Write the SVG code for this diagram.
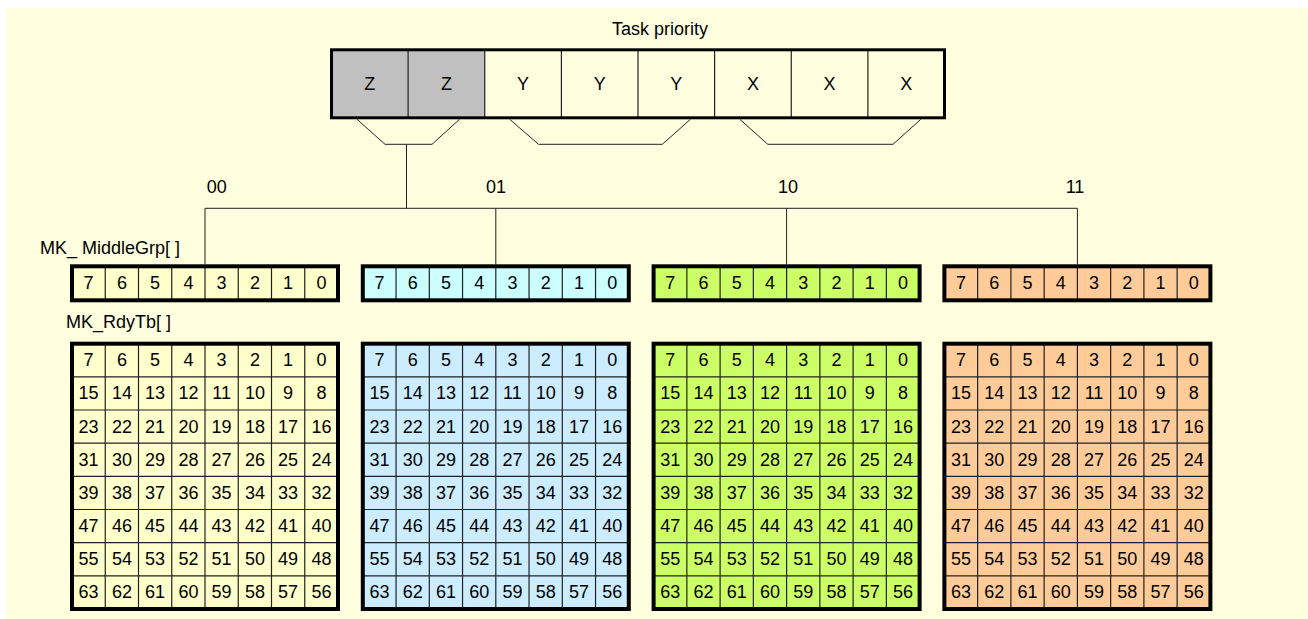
<svg xmlns="http://www.w3.org/2000/svg" width="1308" height="619" viewBox="0 0 1308 619">
<style>
text{font-family:"Liberation Sans",Arial,sans-serif;font-size:18px;fill:#000}
.c{text-anchor:middle;dominant-baseline:central}
.lbl{font-size:18px}
.outer{fill:none;stroke:#000;stroke-width:4}
.div{fill:none;stroke:#222;stroke-width:1.2}
.con{fill:none;stroke:#222;stroke-width:1}
.yel{fill:#FFFFCC}.cyan{fill:#CCFFFF}.blue{fill:#CCECFF}.grn{fill:#CCFF66}.org{fill:#FFCC99}
</style>
<rect x="6" y="8" width="1302" height="611" fill="#FFFFE0"/>

<g id="task-priority">
<text class="c" x="660" y="29">Task priority</text>
<rect x="331.5" y="49.8" width="153.25" height="68" fill="#C0C0C0"/>
<path class="div" d="M408.1,49.8V117.8M484.75,49.8V117.8M561.4,49.8V117.8M638,49.8V117.8M714.6,49.8V117.8M791.25,49.8V117.8M867.9,49.8V117.8"/>
<rect x="331.5" y="49.8" width="613" height="68" fill="none" stroke="#000" stroke-width="3"/>
<text class="c" x="369.8" y="84">Z</text>
<text class="c" x="446.4" y="84">Z</text>
<text class="c" x="523.1" y="84">Y</text>
<text class="c" x="599.7" y="84">Y</text>
<text class="c" x="676.3" y="84">Y</text>
<text class="c" x="753" y="84">X</text>
<text class="c" x="829.6" y="84">X</text>
<text class="c" x="906.2" y="84">X</text>
</g>

<g id="connectors">
<path class="con" d="M357,119.3L385,144.3H432L459.5,119.3"/>
<path class="con" d="M509.7,119.3L538.6,144.3H662.3L690.4,119.3"/>
<path class="con" d="M739.8,119.3L767.8,144.3H893L920.8,119.3"/>
<path class="con" d="M406.5,144.3V208.3M205,208.3H1077.4M205,208.3V264.3M495.8,208.3V264.3M786.6,208.3V264.3M1077.4,208.3V264.3"/>
<text class="c" x="216.7" y="187">00</text>
<text class="c" x="496" y="187">01</text>
<text class="c" x="788" y="187">10</text>
<text class="c" x="1075" y="187">11</text>
</g>

<text x="40" y="254" class="lbl">MK_ MiddleGrp[ ]</text>
<text x="66" y="328" class="lbl">MK_RdyTb[ ]</text>

<g id="middle-00">
<rect class="yel" x="72" y="266.3" width="266" height="34"/>
<path class="div" d="M105.25,266.3V300.3M138.5,266.3V300.3M171.75,266.3V300.3M205,266.3V300.3M238.25,266.3V300.3M271.5,266.3V300.3M304.75,266.3V300.3"/>
<rect class="outer" x="72" y="266.3" width="266" height="34"/>
<text class="c" x="88.6" y="283.3">7</text><text class="c" x="121.9" y="283.3">6</text><text class="c" x="155.1" y="283.3">5</text><text class="c" x="188.4" y="283.3">4</text><text class="c" x="221.6" y="283.3">3</text><text class="c" x="254.9" y="283.3">2</text><text class="c" x="288.1" y="283.3">1</text><text class="c" x="321.4" y="283.3">0</text>
</g>
<g id="middle-01">
<rect class="cyan" x="362.8" y="266.3" width="266" height="34"/>
<path class="div" d="M396.05,266.3V300.3M429.3,266.3V300.3M462.55,266.3V300.3M495.8,266.3V300.3M529.05,266.3V300.3M562.3,266.3V300.3M595.55,266.3V300.3"/>
<rect class="outer" x="362.8" y="266.3" width="266" height="34"/>
<text class="c" x="379.4" y="283.3">7</text><text class="c" x="412.7" y="283.3">6</text><text class="c" x="445.9" y="283.3">5</text><text class="c" x="479.2" y="283.3">4</text><text class="c" x="512.4" y="283.3">3</text><text class="c" x="545.7" y="283.3">2</text><text class="c" x="578.9" y="283.3">1</text><text class="c" x="612.2" y="283.3">0</text>
</g>
<g id="middle-10">
<rect class="grn" x="653.6" y="266.3" width="266" height="34"/>
<path class="div" d="M686.85,266.3V300.3M720.1,266.3V300.3M753.35,266.3V300.3M786.6,266.3V300.3M819.85,266.3V300.3M853.1,266.3V300.3M886.35,266.3V300.3"/>
<rect class="outer" x="653.6" y="266.3" width="266" height="34"/>
<text class="c" x="670.2" y="283.3">7</text><text class="c" x="703.5" y="283.3">6</text><text class="c" x="736.7" y="283.3">5</text><text class="c" x="770" y="283.3">4</text><text class="c" x="803.2" y="283.3">3</text><text class="c" x="836.5" y="283.3">2</text><text class="c" x="869.7" y="283.3">1</text><text class="c" x="903" y="283.3">0</text>
</g>
<g id="middle-11">
<rect class="org" x="944.4" y="266.3" width="266" height="34"/>
<path class="div" d="M977.65,266.3V300.3M1010.9,266.3V300.3M1044.15,266.3V300.3M1077.4,266.3V300.3M1110.65,266.3V300.3M1143.9,266.3V300.3M1177.15,266.3V300.3"/>
<rect class="outer" x="944.4" y="266.3" width="266" height="34"/>
<text class="c" x="961" y="283.3">7</text><text class="c" x="994.3" y="283.3">6</text><text class="c" x="1027.5" y="283.3">5</text><text class="c" x="1060.8" y="283.3">4</text><text class="c" x="1094" y="283.3">3</text><text class="c" x="1127.3" y="283.3">2</text><text class="c" x="1160.5" y="283.3">1</text><text class="c" x="1193.8" y="283.3">0</text>
</g>

<g id="rdytbl-00">
<rect class="yel" x="72" y="343.7" width="266" height="265.3"/>
<path class="div" d="M105.25,343.7V609M138.5,343.7V609M171.75,343.7V609M205,343.7V609M238.25,343.7V609M271.5,343.7V609M304.75,343.7V609M72,376.86H338M72,410.02H338M72,443.18H338M72,476.34H338M72,509.5H338M72,542.66H338M72,575.82H338"/>
<rect class="outer" x="72" y="343.7" width="266" height="265.3"/>
<text class="c" x="88.6" y="360.3">7</text><text class="c" x="121.9" y="360.3">6</text><text class="c" x="155.1" y="360.3">5</text><text class="c" x="188.4" y="360.3">4</text><text class="c" x="221.6" y="360.3">3</text><text class="c" x="254.9" y="360.3">2</text><text class="c" x="288.1" y="360.3">1</text><text class="c" x="321.4" y="360.3">0</text>
<text class="c" x="88.6" y="393.4">15</text><text class="c" x="121.9" y="393.4">14</text><text class="c" x="155.1" y="393.4">13</text><text class="c" x="188.4" y="393.4">12</text><text class="c" x="221.6" y="393.4">11</text><text class="c" x="254.9" y="393.4">10</text><text class="c" x="288.1" y="393.4">9</text><text class="c" x="321.4" y="393.4">8</text>
<text class="c" x="88.6" y="426.6">23</text><text class="c" x="121.9" y="426.6">22</text><text class="c" x="155.1" y="426.6">21</text><text class="c" x="188.4" y="426.6">20</text><text class="c" x="221.6" y="426.6">19</text><text class="c" x="254.9" y="426.6">18</text><text class="c" x="288.1" y="426.6">17</text><text class="c" x="321.4" y="426.6">16</text>
<text class="c" x="88.6" y="459.8">31</text><text class="c" x="121.9" y="459.8">30</text><text class="c" x="155.1" y="459.8">29</text><text class="c" x="188.4" y="459.8">28</text><text class="c" x="221.6" y="459.8">27</text><text class="c" x="254.9" y="459.8">26</text><text class="c" x="288.1" y="459.8">25</text><text class="c" x="321.4" y="459.8">24</text>
<text class="c" x="88.6" y="492.9">39</text><text class="c" x="121.9" y="492.9">38</text><text class="c" x="155.1" y="492.9">37</text><text class="c" x="188.4" y="492.9">36</text><text class="c" x="221.6" y="492.9">35</text><text class="c" x="254.9" y="492.9">34</text><text class="c" x="288.1" y="492.9">33</text><text class="c" x="321.4" y="492.9">32</text>
<text class="c" x="88.6" y="526.1">47</text><text class="c" x="121.9" y="526.1">46</text><text class="c" x="155.1" y="526.1">45</text><text class="c" x="188.4" y="526.1">44</text><text class="c" x="221.6" y="526.1">43</text><text class="c" x="254.9" y="526.1">42</text><text class="c" x="288.1" y="526.1">41</text><text class="c" x="321.4" y="526.1">40</text>
<text class="c" x="88.6" y="559.2">55</text><text class="c" x="121.9" y="559.2">54</text><text class="c" x="155.1" y="559.2">53</text><text class="c" x="188.4" y="559.2">52</text><text class="c" x="221.6" y="559.2">51</text><text class="c" x="254.9" y="559.2">50</text><text class="c" x="288.1" y="559.2">49</text><text class="c" x="321.4" y="559.2">48</text>
<text class="c" x="88.6" y="592.4">63</text><text class="c" x="121.9" y="592.4">62</text><text class="c" x="155.1" y="592.4">61</text><text class="c" x="188.4" y="592.4">60</text><text class="c" x="221.6" y="592.4">59</text><text class="c" x="254.9" y="592.4">58</text><text class="c" x="288.1" y="592.4">57</text><text class="c" x="321.4" y="592.4">56</text>
</g>

<g id="rdytbl-01">
<rect class="blue" x="362.8" y="343.7" width="266" height="265.3"/>
<path class="div" d="M396.05,343.7V609M429.3,343.7V609M462.55,343.7V609M495.8,343.7V609M529.05,343.7V609M562.3,343.7V609M595.55,343.7V609M362.8,376.86H628.8M362.8,410.02H628.8M362.8,443.18H628.8M362.8,476.34H628.8M362.8,509.5H628.8M362.8,542.66H628.8M362.8,575.82H628.8"/>
<rect class="outer" x="362.8" y="343.7" width="266" height="265.3"/>
<text class="c" x="379.4" y="360.3">7</text><text class="c" x="412.7" y="360.3">6</text><text class="c" x="445.9" y="360.3">5</text><text class="c" x="479.2" y="360.3">4</text><text class="c" x="512.4" y="360.3">3</text><text class="c" x="545.7" y="360.3">2</text><text class="c" x="578.9" y="360.3">1</text><text class="c" x="612.2" y="360.3">0</text>
<text class="c" x="379.4" y="393.4">15</text><text class="c" x="412.7" y="393.4">14</text><text class="c" x="445.9" y="393.4">13</text><text class="c" x="479.2" y="393.4">12</text><text class="c" x="512.4" y="393.4">11</text><text class="c" x="545.7" y="393.4">10</text><text class="c" x="578.9" y="393.4">9</text><text class="c" x="612.2" y="393.4">8</text>
<text class="c" x="379.4" y="426.6">23</text><text class="c" x="412.7" y="426.6">22</text><text class="c" x="445.9" y="426.6">21</text><text class="c" x="479.2" y="426.6">20</text><text class="c" x="512.4" y="426.6">19</text><text class="c" x="545.7" y="426.6">18</text><text class="c" x="578.9" y="426.6">17</text><text class="c" x="612.2" y="426.6">16</text>
<text class="c" x="379.4" y="459.8">31</text><text class="c" x="412.7" y="459.8">30</text><text class="c" x="445.9" y="459.8">29</text><text class="c" x="479.2" y="459.8">28</text><text class="c" x="512.4" y="459.8">27</text><text class="c" x="545.7" y="459.8">26</text><text class="c" x="578.9" y="459.8">25</text><text class="c" x="612.2" y="459.8">24</text>
<text class="c" x="379.4" y="492.9">39</text><text class="c" x="412.7" y="492.9">38</text><text class="c" x="445.9" y="492.9">37</text><text class="c" x="479.2" y="492.9">36</text><text class="c" x="512.4" y="492.9">35</text><text class="c" x="545.7" y="492.9">34</text><text class="c" x="578.9" y="492.9">33</text><text class="c" x="612.2" y="492.9">32</text>
<text class="c" x="379.4" y="526.1">47</text><text class="c" x="412.7" y="526.1">46</text><text class="c" x="445.9" y="526.1">45</text><text class="c" x="479.2" y="526.1">44</text><text class="c" x="512.4" y="526.1">43</text><text class="c" x="545.7" y="526.1">42</text><text class="c" x="578.9" y="526.1">41</text><text class="c" x="612.2" y="526.1">40</text>
<text class="c" x="379.4" y="559.2">55</text><text class="c" x="412.7" y="559.2">54</text><text class="c" x="445.9" y="559.2">53</text><text class="c" x="479.2" y="559.2">52</text><text class="c" x="512.4" y="559.2">51</text><text class="c" x="545.7" y="559.2">50</text><text class="c" x="578.9" y="559.2">49</text><text class="c" x="612.2" y="559.2">48</text>
<text class="c" x="379.4" y="592.4">63</text><text class="c" x="412.7" y="592.4">62</text><text class="c" x="445.9" y="592.4">61</text><text class="c" x="479.2" y="592.4">60</text><text class="c" x="512.4" y="592.4">59</text><text class="c" x="545.7" y="592.4">58</text><text class="c" x="578.9" y="592.4">57</text><text class="c" x="612.2" y="592.4">56</text>
</g>

<g id="rdytbl-10">
<rect class="grn" x="653.6" y="343.7" width="266" height="265.3"/>
<path class="div" d="M686.85,343.7V609M720.1,343.7V609M753.35,343.7V609M786.6,343.7V609M819.85,343.7V609M853.1,343.7V609M886.35,343.7V609M653.6,376.86H919.6M653.6,410.02H919.6M653.6,443.18H919.6M653.6,476.34H919.6M653.6,509.5H919.6M653.6,542.66H919.6M653.6,575.82H919.6"/>
<rect class="outer" x="653.6" y="343.7" width="266" height="265.3"/>
<text class="c" x="670.2" y="360.3">7</text><text class="c" x="703.5" y="360.3">6</text><text class="c" x="736.7" y="360.3">5</text><text class="c" x="770" y="360.3">4</text><text class="c" x="803.2" y="360.3">3</text><text class="c" x="836.5" y="360.3">2</text><text class="c" x="869.7" y="360.3">1</text><text class="c" x="903" y="360.3">0</text>
<text class="c" x="670.2" y="393.4">15</text><text class="c" x="703.5" y="393.4">14</text><text class="c" x="736.7" y="393.4">13</text><text class="c" x="770" y="393.4">12</text><text class="c" x="803.2" y="393.4">11</text><text class="c" x="836.5" y="393.4">10</text><text class="c" x="869.7" y="393.4">9</text><text class="c" x="903" y="393.4">8</text>
<text class="c" x="670.2" y="426.6">23</text><text class="c" x="703.5" y="426.6">22</text><text class="c" x="736.7" y="426.6">21</text><text class="c" x="770" y="426.6">20</text><text class="c" x="803.2" y="426.6">19</text><text class="c" x="836.5" y="426.6">18</text><text class="c" x="869.7" y="426.6">17</text><text class="c" x="903" y="426.6">16</text>
<text class="c" x="670.2" y="459.8">31</text><text class="c" x="703.5" y="459.8">30</text><text class="c" x="736.7" y="459.8">29</text><text class="c" x="770" y="459.8">28</text><text class="c" x="803.2" y="459.8">27</text><text class="c" x="836.5" y="459.8">26</text><text class="c" x="869.7" y="459.8">25</text><text class="c" x="903" y="459.8">24</text>
<text class="c" x="670.2" y="492.9">39</text><text class="c" x="703.5" y="492.9">38</text><text class="c" x="736.7" y="492.9">37</text><text class="c" x="770" y="492.9">36</text><text class="c" x="803.2" y="492.9">35</text><text class="c" x="836.5" y="492.9">34</text><text class="c" x="869.7" y="492.9">33</text><text class="c" x="903" y="492.9">32</text>
<text class="c" x="670.2" y="526.1">47</text><text class="c" x="703.5" y="526.1">46</text><text class="c" x="736.7" y="526.1">45</text><text class="c" x="770" y="526.1">44</text><text class="c" x="803.2" y="526.1">43</text><text class="c" x="836.5" y="526.1">42</text><text class="c" x="869.7" y="526.1">41</text><text class="c" x="903" y="526.1">40</text>
<text class="c" x="670.2" y="559.2">55</text><text class="c" x="703.5" y="559.2">54</text><text class="c" x="736.7" y="559.2">53</text><text class="c" x="770" y="559.2">52</text><text class="c" x="803.2" y="559.2">51</text><text class="c" x="836.5" y="559.2">50</text><text class="c" x="869.7" y="559.2">49</text><text class="c" x="903" y="559.2">48</text>
<text class="c" x="670.2" y="592.4">63</text><text class="c" x="703.5" y="592.4">62</text><text class="c" x="736.7" y="592.4">61</text><text class="c" x="770" y="592.4">60</text><text class="c" x="803.2" y="592.4">59</text><text class="c" x="836.5" y="592.4">58</text><text class="c" x="869.7" y="592.4">57</text><text class="c" x="903" y="592.4">56</text>
</g>

<g id="rdytbl-11">
<rect class="org" x="944.4" y="343.7" width="266" height="265.3"/>
<path class="div" d="M977.65,343.7V609M1010.9,343.7V609M1044.15,343.7V609M1077.4,343.7V609M1110.65,343.7V609M1143.9,343.7V609M1177.15,343.7V609M944.4,376.86H1210.4M944.4,410.02H1210.4M944.4,443.18H1210.4M944.4,476.34H1210.4M944.4,509.5H1210.4M944.4,542.66H1210.4M944.4,575.82H1210.4"/>
<rect class="outer" x="944.4" y="343.7" width="266" height="265.3"/>
<text class="c" x="961" y="360.3">7</text><text class="c" x="994.3" y="360.3">6</text><text class="c" x="1027.5" y="360.3">5</text><text class="c" x="1060.8" y="360.3">4</text><text class="c" x="1094" y="360.3">3</text><text class="c" x="1127.3" y="360.3">2</text><text class="c" x="1160.5" y="360.3">1</text><text class="c" x="1193.8" y="360.3">0</text>
<text class="c" x="961" y="393.4">15</text><text class="c" x="994.3" y="393.4">14</text><text class="c" x="1027.5" y="393.4">13</text><text class="c" x="1060.8" y="393.4">12</text><text class="c" x="1094" y="393.4">11</text><text class="c" x="1127.3" y="393.4">10</text><text class="c" x="1160.5" y="393.4">9</text><text class="c" x="1193.8" y="393.4">8</text>
<text class="c" x="961" y="426.6">23</text><text class="c" x="994.3" y="426.6">22</text><text class="c" x="1027.5" y="426.6">21</text><text class="c" x="1060.8" y="426.6">20</text><text class="c" x="1094" y="426.6">19</text><text class="c" x="1127.3" y="426.6">18</text><text class="c" x="1160.5" y="426.6">17</text><text class="c" x="1193.8" y="426.6">16</text>
<text class="c" x="961" y="459.8">31</text><text class="c" x="994.3" y="459.8">30</text><text class="c" x="1027.5" y="459.8">29</text><text class="c" x="1060.8" y="459.8">28</text><text class="c" x="1094" y="459.8">27</text><text class="c" x="1127.3" y="459.8">26</text><text class="c" x="1160.5" y="459.8">25</text><text class="c" x="1193.8" y="459.8">24</text>
<text class="c" x="961" y="492.9">39</text><text class="c" x="994.3" y="492.9">38</text><text class="c" x="1027.5" y="492.9">37</text><text class="c" x="1060.8" y="492.9">36</text><text class="c" x="1094" y="492.9">35</text><text class="c" x="1127.3" y="492.9">34</text><text class="c" x="1160.5" y="492.9">33</text><text class="c" x="1193.8" y="492.9">32</text>
<text class="c" x="961" y="526.1">47</text><text class="c" x="994.3" y="526.1">46</text><text class="c" x="1027.5" y="526.1">45</text><text class="c" x="1060.8" y="526.1">44</text><text class="c" x="1094" y="526.1">43</text><text class="c" x="1127.3" y="526.1">42</text><text class="c" x="1160.5" y="526.1">41</text><text class="c" x="1193.8" y="526.1">40</text>
<text class="c" x="961" y="559.2">55</text><text class="c" x="994.3" y="559.2">54</text><text class="c" x="1027.5" y="559.2">53</text><text class="c" x="1060.8" y="559.2">52</text><text class="c" x="1094" y="559.2">51</text><text class="c" x="1127.3" y="559.2">50</text><text class="c" x="1160.5" y="559.2">49</text><text class="c" x="1193.8" y="559.2">48</text>
<text class="c" x="961" y="592.4">63</text><text class="c" x="994.3" y="592.4">62</text><text class="c" x="1027.5" y="592.4">61</text><text class="c" x="1060.8" y="592.4">60</text><text class="c" x="1094" y="592.4">59</text><text class="c" x="1127.3" y="592.4">58</text><text class="c" x="1160.5" y="592.4">57</text><text class="c" x="1193.8" y="592.4">56</text>
</g>
</svg>
